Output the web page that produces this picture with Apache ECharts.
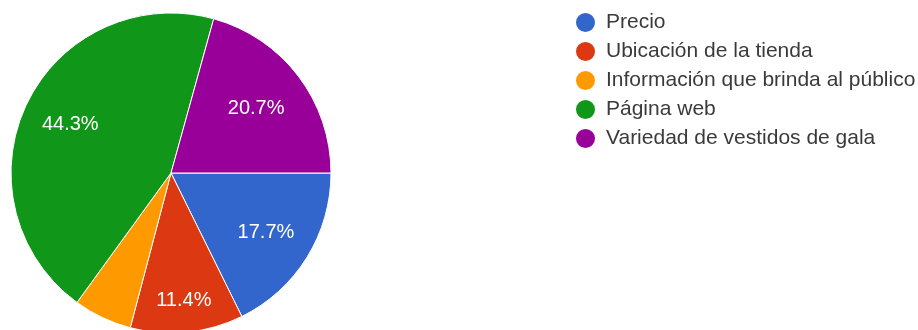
<!DOCTYPE html>
<html>
<head>
<meta charset="utf-8">
<script src="https://cdn.jsdelivr.net/npm/echarts@6/dist/echarts.min.js"></script>
<style>
  html, body { margin: 0; padding: 0; background: #fff; }
  #chart { width: 918px; height: 330px; }
</style>
</head>
<body>
<div id="chart"></div>
<script>
// Survey answers (percent of respondents)
const categories = [
  'Precio',
  'Ubicación de la tienda',
  'Información que brinda al público',
  'Página web',
  'Variedad de vestidos de gala'
];
const shares = [17.7, 11.4, 5.9, 44.3, 20.7];
const palette = ['#3366cc', '#dc3912', '#ff9900', '#109618', '#990099'];

const CENTER = [171, 173];
const RADIUS = 160;
const MIN_LABELLED = 8;          // slices smaller than this get no label
// how far out (fraction of radius) each slice label sits
const labelRing = name => {
  if (name === 'Ubicación de la tienda') return 0.78;
  if (name === 'Variedad de vestidos de gala') return 0.65;
  return 0.68;
};

const pieData = categories.map((name, i) => ({
  name,
  value: shares[i],
  itemStyle: { color: palette[i] }
}));

// Invisible rings that carry the percentage labels: an 'inside' label sits at
// half the ring radius, so a ring of 2*f*R puts it at f*R from the centre.
const rings = [...new Set(categories.map(labelRing))];
const labelSeries = rings.map(f => ({
  type: 'pie',
  silent: true,
  center: CENTER,
  radius: [0, 2 * f * RADIUS],
  startAngle: 0,
  clockwise: true,
  z: 3,
  legendHoverLink: false,
  itemStyle: { color: 'rgba(0,0,0,0)', borderWidth: 0 },
  emphasis: { disabled: true },
  labelLine: { show: false },
  data: categories.map((name, i) => ({
    name,
    value: shares[i],
    label: { show: labelRing(name) === f && shares[i] >= MIN_LABELLED }
  })),
  label: {
    position: 'inside',
    formatter: p => p.value.toFixed(1) + '%',
    color: '#ffffff',
    fontFamily: 'Arial, "Liberation Sans", sans-serif',
    fontSize: 20
  }
}));

const chart = echarts.init(document.getElementById('chart'), null, { renderer: 'canvas' });
chart.setOption({
  animation: false,
  backgroundColor: '#ffffff',
  legend: {
    orient: 'vertical',
    left: 569,
    top: 6,
    icon: 'circle',
    itemWidth: 21,
    itemHeight: 21,
    itemGap: 6,
    selectedMode: false,
    data: categories,
    textStyle: {
      color: '#3a3a3a',
      fontFamily: 'Arial, "Liberation Sans", sans-serif',
      fontSize: 21,
      lineHeight: 21,
      padding: [0, 0, 0, 5]
    }
  },
  series: [
    {
      type: 'pie',
      center: CENTER,
      radius: [0, RADIUS],
      startAngle: 0,
      clockwise: true,
      z: 2,
      itemStyle: { borderColor: '#ffffff', borderWidth: 1 },
      label: { show: false },
      labelLine: { show: false },
      emphasis: { disabled: true },
      data: pieData
    },
    ...labelSeries
  ]
});
</script>
</body>
</html>
